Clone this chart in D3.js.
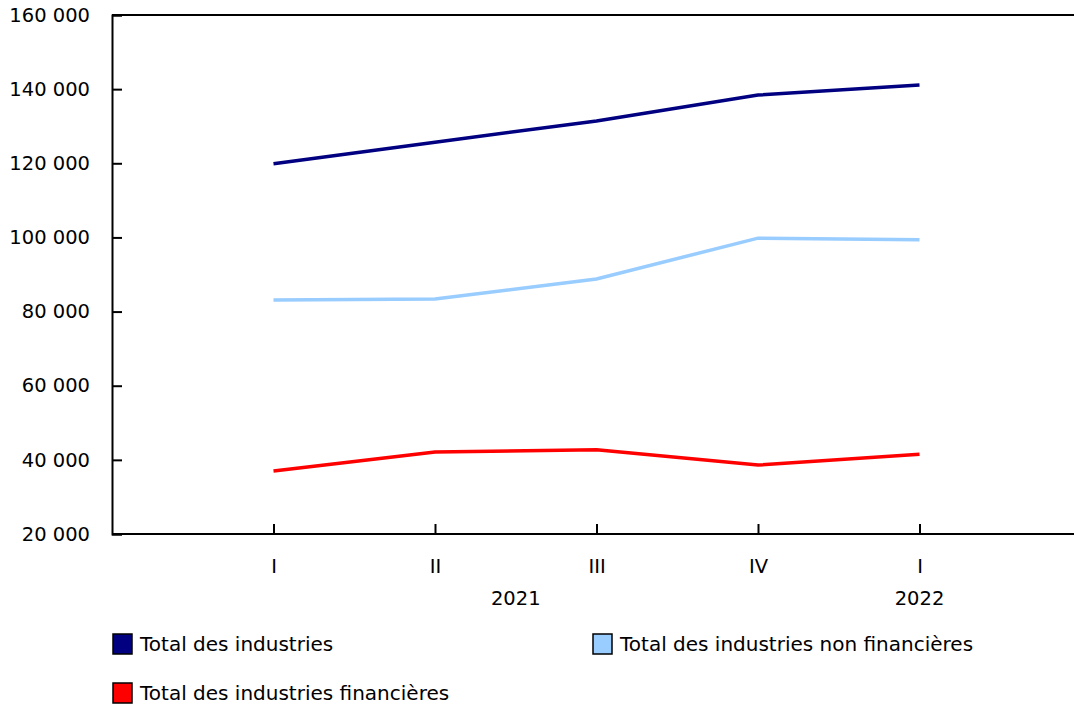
<!DOCTYPE html>
<html>
<head>
<meta charset="utf-8">
<script src="https://cdn.jsdelivr.net/npm/d3@7"></script>
<style>
  body { margin: 0; background: #fff; }
  text { font-family: "DejaVu Sans", Verdana, sans-serif; fill: #000; }
</style>
</head>
<body>
<div id="chart"></div>
<script>
const quarters = ['I', 'II', 'III', 'IV', 'I'];
const years = [{ label: '2021', from: 0, to: 3 }, { label: '2022', from: 4, to: 4 }];
const yTicks = [20000, 40000, 60000, 80000, 100000, 120000, 140000, 160000];

const totalIndustries = [119900, 125700, 131400, 138400, 141100];
const nonFinancial = [83100, 83400, 88800, 99800, 99400];
const financial = [37000, 42100, 42700, 38600, 41500];

const seriesNames = ['Total des industries', 'Total des industries non financières', 'Total des industries financières'];
const colors = ['#000080', '#99ccff', '#ff0000'];

const W = 1074, H = 707;
const margin = { top: 15, right: 4, bottom: 173, left: 112 };
const width = W - margin.left - margin.right;
const height = H - margin.top - margin.bottom;
const fontSize = 19.5;

const svg = d3.select('#chart').append('svg')
  .attr('width', W)
  .attr('height', H);

const g = svg.append('g')
  .attr('transform', `translate(${margin.left}, ${margin.top})`);

// 6 equal slots, quarters sit on slots 1..5
const x = d3.scaleLinear().domain([0, 6]).range([0, 161.5 * 6]);
const y = d3.scaleLinear().domain([20000, 160000]).range([height, 0]);

const fmt = v => d3.format(',')(v).replace(/,/g, ' ');

// y axis, ticks pointing inward
const yAxis = g.append('g')
  .call(d3.axisLeft(y).tickValues(yTicks).tickSize(-10).tickPadding(22).tickFormat(fmt));
yAxis.select('.domain').attr('stroke', '#000').attr('stroke-width', 2);
yAxis.selectAll('.tick line').attr('stroke', '#000').attr('stroke-width', 2);
yAxis.selectAll('.tick text').attr('font-size', fontSize).attr('font-family', '"DejaVu Sans", Verdana, sans-serif');

// top border
g.append('line')
  .attr('x1', 0).attr('x2', W - margin.left)
  .attr('y1', 0).attr('y2', 0)
  .attr('stroke', '#000').attr('stroke-width', 2);

// x axis
const xAxis = g.append('g')
  .attr('transform', `translate(0, ${height})`)
  .call(d3.axisBottom(x).tickValues(d3.range(1, 6)).tickSize(-10).tickSizeOuter(0).tickFormat(d => quarters[d - 1]).tickPadding(25));
xAxis.select('.domain').attr('stroke', '#000').attr('stroke-width', 2)
  .attr('d', `M0,0H${W - margin.left}`);
xAxis.selectAll('.tick line').attr('stroke', '#000').attr('stroke-width', 2);
xAxis.selectAll('.tick text').attr('font-size', fontSize).attr('font-family', '"DejaVu Sans", Verdana, sans-serif');

// year labels
g.selectAll('.year')
  .data(years)
  .enter()
  .append('text')
    .attr('class', 'year')
    .attr('x', d => (x(d.from + 1) + x(d.to + 1)) / 2)
    .attr('y', height + 71)
    .attr('text-anchor', 'middle')
    .attr('font-size', fontSize)
    .text(d => d.label);

// lines
const line = d3.line()
  .x((d, i) => x(i + 1))
  .y(d => y(d));

[totalIndustries, nonFinancial, financial].forEach((data, i) => {
  g.append('path')
    .datum(data)
    .attr('fill', 'none')
    .attr('stroke', colors[i])
    .attr('stroke-width', 3.5)
    .attr('d', line);
});

// legend
const legendPos = [
  { x: 112, y: 634 },
  { x: 592, y: 634 },
  { x: 112, y: 683 }
];
const legend = svg.selectAll('.legend')
  .data(seriesNames)
  .enter()
  .append('g')
    .attr('class', 'legend')
    .attr('transform', (d, i) => `translate(${legendPos[i].x}, ${legendPos[i].y})`);
legend.append('rect')
  .attr('x', 1).attr('y', 0)
  .attr('width', 19).attr('height', 20)
  .attr('fill', (d, i) => colors[i])
  .attr('stroke', '#000')
  .attr('stroke-width', 1.5);
legend.append('text')
  .attr('x', 28)
  .attr('y', 17)
  .attr('font-size', 20)
  .text(d => d);
</script>
</body>
</html>
